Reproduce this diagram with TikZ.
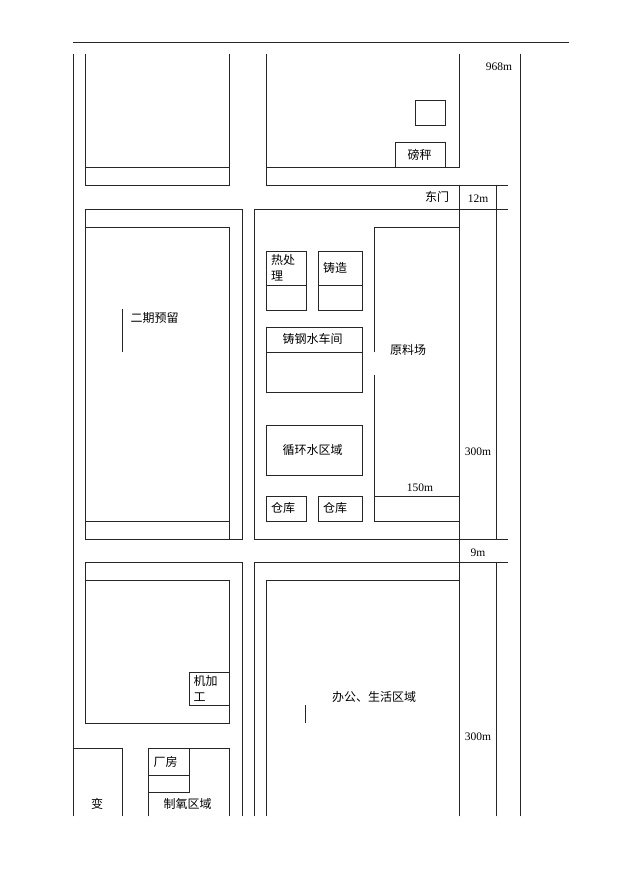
\documentclass[tikz,border=0pt]{standalone}
\usepackage{fontspec}
\setmainfont{Liberation Serif}
\newfontfamily\cjk{Noto Sans CJK SC}
\tikzset{
  planline/.style={draw=black!85, line width=0.9pt, line cap=rect},
  cjklabel/.style={inner sep=0pt, font=\cjk\fontsize{12}{16}\selectfont, text=black},
  dimlabel/.style={inner sep=0pt, font=\fontsize{11.5}{14}\selectfont, text=black},
}
\begin{document}
\begin{tikzpicture}[x=1pt,y=-1pt]
\useasboundingbox (0,0) rectangle (621,877);
\fill[white] (0,0) rectangle (621,877);
% header rule
\draw[planline] (73,42) -- (569,42);
% long road lines
\draw[planline] (73,54) -- (73,816);
\draw[planline] (520,54) -- (520,816);
\draw[planline] (459.5,54) -- (459.5,167.5) -- (266,167.5);
\draw[planline] (459.5,185) -- (459.5,816);
\draw[planline] (496,185) -- (496,539);
\draw[planline] (496,562) -- (496,816);
% top-left block
\draw[planline] (85.5,54) -- (85.5,185) -- (229,185) -- (229,54);
\draw[planline] (85.5,167.5) -- (229,167.5);
% top-right block
\draw[planline] (266,54) -- (266,185) -- (508,185);
\draw[planline] (415,100) rectangle (445,125.5);
\draw[planline] (395,167.5) -- (395,142) -- (445,142) -- (445,167.5);
% second-row left block
\draw[planline] (85.5,209.5) rectangle (242,539);
\draw[planline] (85.5,227) -- (229,227) -- (229,539);
\draw[planline] (85.5,521.5) -- (229,521.5);
\draw[planline] (122,309) -- (122,352);
% second-row right block
\draw[planline] (508,209.5) -- (254,209.5) -- (254,539) -- (508,539);
\draw[planline] (266,251.5) rectangle (306,310);
\draw[planline] (266,285) -- (306,285);
\draw[planline] (318,251.5) rectangle (362,310);
\draw[planline] (318,285) -- (362,285);
\draw[planline] (266,327) rectangle (362,392);
\draw[planline] (266,352) -- (362,352);
\draw[planline] (266,425) rectangle (362,475);
\draw[planline] (266,496) rectangle (306,521.5);
\draw[planline] (318,496) rectangle (362,521.5);
% raw material yard
\draw[planline] (374,352) -- (374,227) -- (459.5,227);
\draw[planline] (374,375) -- (374,521.5) -- (459.5,521.5);
\draw[planline] (374,496) -- (459.5,496);
% third-row left block
\draw[planline] (85.5,723) -- (85.5,562) -- (242,562) -- (242,816);
\draw[planline] (85.5,580) -- (229,580) -- (229,723) -- (85.5,723);
\draw[planline] (229,672) -- (189,672) -- (189,705.5) -- (229,705.5);
% third-row right block
\draw[planline] (254,816) -- (254,562) -- (508,562);
\draw[planline] (266,816) -- (266,580) -- (459.5,580);
\draw[planline] (305.5,705) -- (305.5,723);
% bottom-left blocks
\draw[planline] (73,748) -- (122,748) -- (122,816);
\draw[planline] (148,816) -- (148,748) -- (229,748) -- (229,816);
\draw[planline] (189,748) -- (189,792) -- (148,792);
\draw[planline] (148,775) -- (189,775);
% labels
\node[dimlabel] (d968) at (499,67) {968m};
\node[cjklabel] (scale) at (419.5,155) {磅秤};
\node[cjklabel] (eastgate) at (437,196.5) {东门};
\node[dimlabel] (d12) at (478,198.5) {12m};
\node[cjklabel, align=left, anchor=north west] (heat) at (271,254) {热处\\理};
\node[cjklabel] (cast) at (335,268) {铸造};
\node[cjklabel] (phase2) at (154.5,318) {二期预留};
\node[cjklabel] (steel) at (312.5,338.5) {铸钢水车间};
\node[cjklabel] (yard) at (408,350) {原料场};
\node[cjklabel] (water) at (312.5,450) {循环水区域};
\node[dimlabel] (d300a) at (478,452) {300m};
\node[dimlabel] (d150) at (420,488) {150m};
\node[cjklabel] (storeA) at (283,508) {仓库};
\node[cjklabel] (storeB) at (335,508) {仓库};
\node[dimlabel] (d9) at (478,553) {9m};
\node[cjklabel, align=left, anchor=north west] (mach) at (193.5,675) {机加\\工};
\node[cjklabel] (office) at (374,696.5) {办公、生活区域};
\node[dimlabel] (d300b) at (478,737) {300m};
\node[cjklabel] (plant) at (165.5,761.5) {厂房};
\node[cjklabel] (trans) at (97,803.5) {变};
\node[cjklabel] (oxygen) at (187.5,803.5) {制氧区域};
\end{tikzpicture}
\end{document}
